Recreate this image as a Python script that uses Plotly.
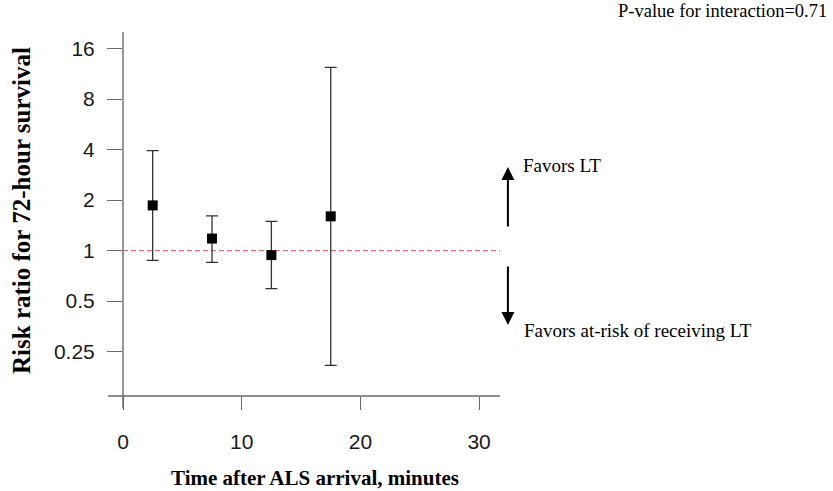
import plotly.graph_objects as go

# Risk ratio by time after ALS arrival (minutes), with 95% CIs
time_min = [2.5, 7.5, 12.5, 17.5]
risk_ratio = [1.86, 1.18, 0.94, 1.60]
ci_low = [0.875, 0.851, 0.593, 0.207]
ci_high = [3.94, 1.61, 1.495, 12.36]

y_ticks = [0.25, 0.5, 1, 2, 4, 8, 16]
y_tick_text = ["0.25", "0.5", "1", "2", "4", "8", "16"]
x_ticks = [0, 10, 20, 30]

x_range = [0, 31.76]
y_range_log = [-0.8661, 1.3023]

err_plus = [h - v for h, v in zip(ci_high, risk_ratio)]
err_minus = [v - l for v, l in zip(risk_ratio, ci_low)]

fig = go.Figure()

# Reference line at RR = 1
fig.add_trace(go.Scatter(
    x=x_range, y=[1, 1], mode="lines",
    line=dict(color="#f26b6b", width=1.4, dash="5px,3px"),
    hoverinfo="skip", showlegend=False,
))

fig.add_trace(go.Scatter(
    x=time_min, y=risk_ratio, mode="markers",
    marker=dict(symbol="square", size=10, color="black"),
    error_y=dict(type="data", symmetric=False, array=err_plus,
                 arrayminus=err_minus, color="#333333",
                 thickness=1.3, width=6),
    showlegend=False,
))

axis_color = "#6a6a6a"
tick_font = dict(family="Liberation Sans, Arial", size=21, color="#1a1a1a")
xtitle_font = dict(family="Liberation Serif, Times New Roman", size=21, color="black")
ytitle_font = dict(family="Liberation Serif, Times New Roman", size=25, color="black")
note_font = dict(family="Liberation Serif, Times New Roman", size=19, color="black")
pval_font = dict(family="Liberation Serif, Times New Roman", size=18.5, color="black")

fig.update_layout(
    width=833, height=491,
    margin=dict(l=123, r=333, t=32, b=95),
    paper_bgcolor="white", plot_bgcolor="white",
    xaxis=dict(range=x_range, tickvals=x_ticks, showgrid=False, zeroline=False,
               showline=False, ticks="outside", ticklen=13, tickwidth=1.4,
               tickcolor=axis_color, tickfont=tick_font, ticklabelstandoff=14),
    yaxis=dict(type="log", range=y_range_log, tickvals=y_ticks,
               ticktext=y_tick_text, showgrid=False, zeroline=False,
               showline=False, ticks="outside", ticklen=15, tickwidth=1.4,
               tickcolor=axis_color, tickfont=tick_font, ticklabelstandoff=8),
    shapes=[
        # y axis line, running past the x axis
        dict(type="line", xref="paper", yref="paper", x0=0, x1=0,
             y0=-0.033, y1=1, line=dict(color=axis_color, width=1.4)),
        # x axis line, running past the y axis
        dict(type="line", xref="paper", yref="paper", x0=-0.0398, x1=1,
             y0=0, y1=0, line=dict(color=axis_color, width=1.4)),
    ],
    annotations=[
        dict(text="<b>Time after ALS arrival, minutes</b>", xref="paper",
             yref="paper", x=0.509, y=-0.226, xanchor="center",
             yanchor="middle", showarrow=False, font=xtitle_font),
        dict(text="<b>Risk ratio for 72-hour survival</b>", xref="paper",
             yref="paper", x=-0.268, y=0.511, xanchor="center",
             yanchor="middle", textangle=-90, showarrow=False,
             font=ytitle_font),
        dict(text="P-value for interaction=0.71", xref="paper", yref="paper",
             x=1.873, y=1.057, xanchor="right", yanchor="middle",
             showarrow=False, font=pval_font),
        dict(text="Favors LT", xref="paper", yref="paper", x=1.0557,
             y=0.6346, xanchor="left", yanchor="middle", showarrow=False,
             font=note_font),
        dict(text="Favors at-risk of receiving LT", xref="paper",
             yref="paper", x=1.0584, y=0.181, xanchor="left",
             yanchor="middle", showarrow=False, font=note_font),
        # direction arrows
        dict(text="", xref="paper", yref="paper", x=1.021, y=0.629,
             ax=0, ay=61, showarrow=True, arrowhead=2, arrowsize=1.3,
             arrowwidth=2, arrowcolor="black"),
        dict(text="", xref="paper", yref="paper", x=1.021, y=0.195,
             ax=0, ay=-60, showarrow=True, arrowhead=2, arrowsize=1.3,
             arrowwidth=2, arrowcolor="black"),
    ],
)

fig.write_html("out.html")
